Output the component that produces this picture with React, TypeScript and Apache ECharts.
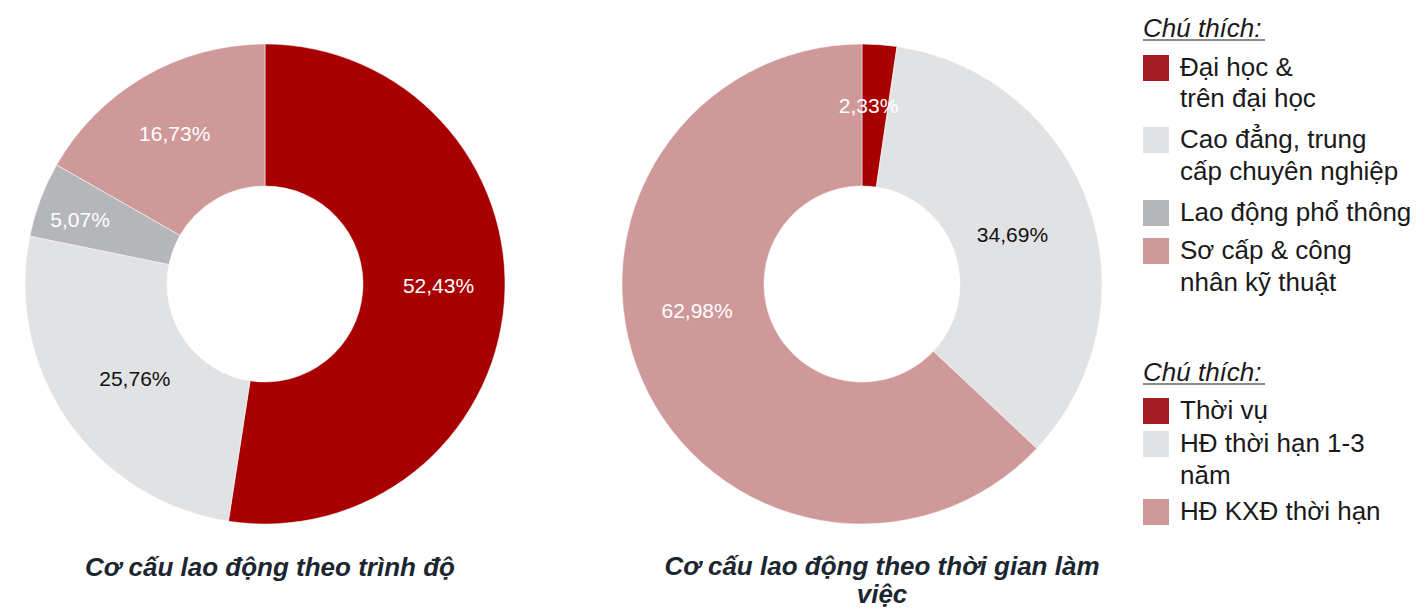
import React, { useEffect, useRef } from "react";
import * as echarts from "echarts";

const levelNames = ["Đại học & trên đại học", "Cao đẳng, trung cấp chuyên nghiệp", "Lao động phổ thông", "Sơ cấp & công nhân kỹ thuật"];
const levelValues = [52.43, 25.76, 5.07, 16.73];
const termNames = ["Thời vụ", "HĐ thời hạn 1-3 năm", "HĐ KXĐ thời hạn"];
const termValues = [2.33, 34.69, 62.98];

const pieColorsLevel = ["#A80000", "#E1E2E4", "#B5B6B9", "#CF9899"];
const pieColorsTerm = ["#A80000", "#E1E2E4", "#CF9899"];
const labelColorsLevel = ["#ffffff", "#111111", "#ffffff", "#ffffff"];
const labelColorsTerm = ["#ffffff", "#111111", "#ffffff"];
const labelShiftLevel = [[2, -12], [11, -4], [-24, -4], [-4, -2]];
const labelShiftTerm = [[-6, -7], [-12, 7], [-7, -42]];

const legendLevelLines = [["Đại học &", "trên đại học"], ["Cao đẳng, trung", "cấp chuyên nghiệp"], ["Lao động phổ thông"], ["Sơ cấp & công", "nhân kỹ thuật"]];
const legendTermLines = [["Thời vụ"], ["HĐ thời hạn 1-3", "năm"], ["HĐ KXĐ thời hạn"]];
const legendSwatch = ["#A51C24", "#E1E2E4", "#B5B6B9", "#CF9899"];
const legendSwatchTerm = ["#A51C24", "#E1E2E4", "#CF9899"];

const FONT = "'Liberation Sans', Arial, sans-serif";

function fmt(v: number) {
  return v.toFixed(2).replace(".", ",") + "%";
}

function buildLegend(titleY: number, lines: string[][], swatches: string[], textYs: number[][]) {
  const els: any[] = [];
  els.push({
    type: "text",
    x: 1143,
    y: titleY,
    style: { text: "Chú thích:", font: `italic 26px ${FONT}`, fill: "#1a1a1a", verticalAlign: "middle" },
  });
  els.push({
    type: "line",
    shape: { x1: 1143, y1: titleY + 12, x2: 1265, y2: titleY + 12 },
    style: { stroke: "#1a1a1a", lineWidth: 1 },
  });
  lines.forEach((ls, i) => {
    const ys = textYs[i];
    els.push({ type: "rect", shape: { x: 1143, y: ys[0] - 12, width: 26, height: 26 }, style: { fill: swatches[i] } });
    ls.forEach((t, j) => {
      els.push({
        type: "text",
        x: 1180,
        y: ys[j],
        style: { text: t, font: `26px ${FONT}`, fill: "#1a1a1a", verticalAlign: "middle" },
      });
    });
  });
  return els;
}

export default function App() {
  const ref = useRef<HTMLDivElement>(null);
  useEffect(() => {
    const chart = echarts.init(ref.current!, null, { renderer: "svg" });
    const mk = (names: string[], vals: number[], colors: string[], lcolors: string[], shifts: number[][], cx: number) => ({
      type: "pie",
      center: [cx, 284],
      radius: [98, 240],
      startAngle: 90,
      clockwise: true,
      avoidLabelOverlap: false,
      label: { show: true, position: "inside", fontFamily: FONT, fontSize: 21 },
      labelLine: { show: false },
      labelLayout: (p: any) => ({ dx: shifts[p.dataIndex][0], dy: shifts[p.dataIndex][1] }),
      itemStyle: { borderColor: "#ffffff", borderWidth: 0.5 },
      data: names.map((n, i) => ({
        name: n,
        value: vals[i],
        itemStyle: { color: colors[i] },
        label: { color: lcolors[i], formatter: () => fmt(vals[i]) },
      })),
    });
    chart.setOption({
      animation: false,
      backgroundColor: "#ffffff",
      series: [
        mk(levelNames, levelValues, pieColorsLevel, labelColorsLevel, labelShiftLevel, 265),
        mk(termNames, termValues, pieColorsTerm, labelColorsTerm, labelShiftTerm, 862),
      ],
      graphic: [
        ...buildLegend(28, legendLevelLines, legendSwatch, [[67, 98], [139, 171], [212], [250, 282]]),
        ...buildLegend(372, legendTermLines, legendSwatchTerm, [[410], [443, 475], [511]]),
        {
          type: "text",
          x: 270,
          y: 567,
          style: { text: "Cơ cấu lao động theo trình độ", font: `italic bold 26px ${FONT}`, fill: "#1c2630", align: "center", verticalAlign: "middle" },
        },
        {
          type: "text",
          x: 882,
          y: 566,
          style: { text: "Cơ cấu lao động theo thời gian làm", font: `italic bold 26px ${FONT}`, fill: "#1c2630", align: "center", verticalAlign: "middle" },
        },
        {
          type: "text",
          x: 882,
          y: 594,
          style: { text: "việc", font: `italic bold 26px ${FONT}`, fill: "#1c2630", align: "center", verticalAlign: "middle" },
        },
      ],
    });
    return () => chart.dispose();
  }, []);
  return <div ref={ref} style={{ position: "fixed", left: 0, top: 0, width: 1427, height: 610 }} />;
}
